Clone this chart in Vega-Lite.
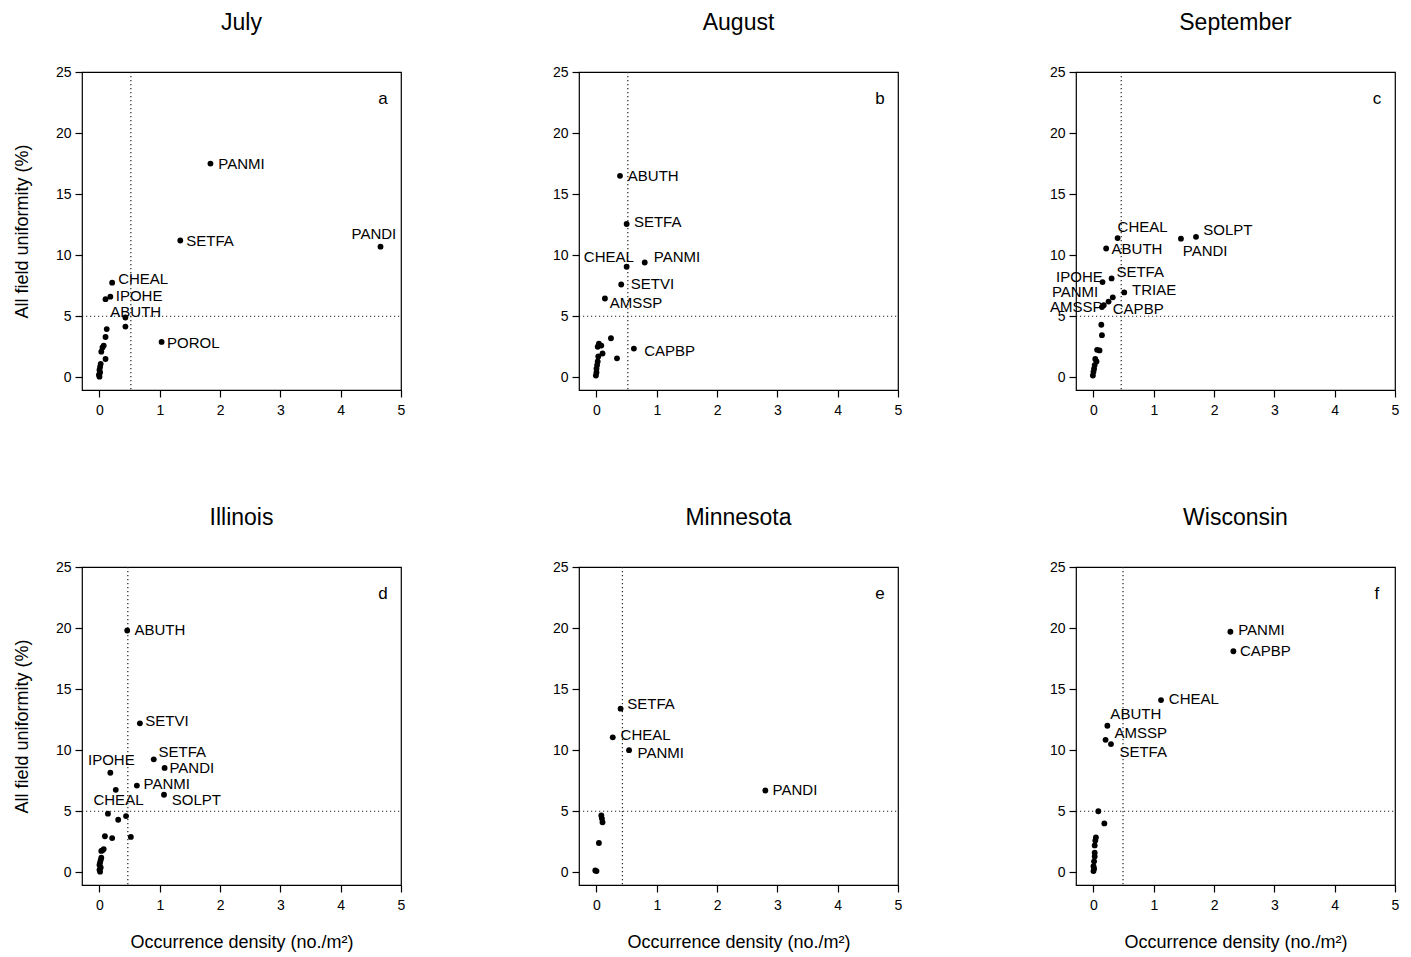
{
"$schema": "https://vega.github.io/schema/vega-lite/v6.json",
"background": "white",
"padding": {"left": 12, "top": 11, "right": 5, "bottom": 5},
"bounds": "flush",
"columns": 3,
"spacing": {"row": 177, "column": 178},
"datasets": {
"d": [
{"p":"a","k":"ref","x":0.52,"y":5},
{"p":"b","k":"ref","x":0.52,"y":5},
{"p":"c","k":"ref","x":0.46,"y":5},
{"p":"d","k":"ref","x":0.47,"y":5},
{"p":"e","k":"ref","x":0.43,"y":5},
{"p":"f","k":"ref","x":0.49,"y":5},
{"p":"a","k":"tag","s":"a","x":4.7,"y":22.4},
{"p":"b","k":"tag","s":"b","x":4.7,"y":22.4},
{"p":"c","k":"tag","s":"c","x":4.7,"y":22.4},
{"p":"d","k":"tag","s":"d","x":4.7,"y":22.4},
{"p":"e","k":"tag","s":"e","x":4.7,"y":22.4},
{"p":"f","k":"tag","s":"f","x":4.7,"y":22.4},

{"p":"a","k":"pt","x":1.84,"y":17.5},
{"p":"a","k":"pt","x":1.34,"y":11.2},
{"p":"a","k":"pt","x":4.66,"y":10.7},
{"p":"a","k":"pt","x":0.21,"y":7.75},
{"p":"a","k":"pt","x":0.10,"y":6.4},
{"p":"a","k":"pt","x":0.18,"y":6.6},
{"p":"a","k":"pt","x":0.43,"y":4.9},
{"p":"a","k":"pt","x":0.43,"y":4.15},
{"p":"a","k":"pt","x":1.03,"y":2.9},
{"p":"a","k":"pt","x":0.12,"y":3.95},
{"p":"a","k":"pt","x":0.10,"y":3.3},
{"p":"a","k":"pt","x":0.07,"y":2.6},
{"p":"a","k":"pt","x":0.05,"y":2.45},
{"p":"a","k":"pt","x":0.03,"y":2.1},
{"p":"a","k":"pt","x":0.10,"y":1.5},
{"p":"a","k":"pt","x":0.02,"y":1.1},
{"p":"a","k":"pt","x":0.01,"y":0.85},
{"p":"a","k":"pt","x":0.0,"y":0.6},
{"p":"a","k":"pt","x":0.01,"y":0.4},
{"p":"a","k":"pt","x":-0.01,"y":0.2},
{"p":"a","k":"pt","x":0.0,"y":0.05},
{"p":"a","k":"lab","s":"PANMI","x":1.97,"y":17.5},
{"p":"a","k":"lab","s":"SETFA","x":1.44,"y":11.2},
{"p":"a","k":"lab","s":"PANDI","x":4.18,"y":11.7},
{"p":"a","k":"lab","s":"CHEAL","x":0.31,"y":8.05},
{"p":"a","k":"lab","s":"IPOHE","x":0.27,"y":6.65},
{"p":"a","k":"lab","s":"ABUTH","x":0.18,"y":5.37},
{"p":"a","k":"lab","s":"POROL","x":1.12,"y":2.83},

{"p":"b","k":"pt","x":0.39,"y":16.5},
{"p":"b","k":"pt","x":0.5,"y":12.55},
{"p":"b","k":"pt","x":0.5,"y":9.05},
{"p":"b","k":"pt","x":0.8,"y":9.4},
{"p":"b","k":"pt","x":0.41,"y":7.6},
{"p":"b","k":"pt","x":0.14,"y":6.45},
{"p":"b","k":"pt","x":0.62,"y":2.35},
{"p":"b","k":"pt","x":0.24,"y":3.2},
{"p":"b","k":"pt","x":0.34,"y":1.55},
{"p":"b","k":"pt","x":0.04,"y":2.75},
{"p":"b","k":"pt","x":0.08,"y":2.6},
{"p":"b","k":"pt","x":0.02,"y":2.5},
{"p":"b","k":"pt","x":0.1,"y":1.95},
{"p":"b","k":"pt","x":0.03,"y":1.7},
{"p":"b","k":"pt","x":0.02,"y":1.3},
{"p":"b","k":"pt","x":0.01,"y":1.0},
{"p":"b","k":"pt","x":0.0,"y":0.7},
{"p":"b","k":"pt","x":0.0,"y":0.4},
{"p":"b","k":"pt","x":-0.01,"y":0.15},
{"p":"b","k":"lab","s":"ABUTH","x":0.52,"y":16.48},
{"p":"b","k":"lab","s":"SETFA","x":0.62,"y":12.68},
{"p":"b","k":"lab","s":"CHEAL","x":-0.21,"y":9.89},
{"p":"b","k":"lab","s":"PANMI","x":0.95,"y":9.89},
{"p":"b","k":"lab","s":"SETVI","x":0.57,"y":7.6},
{"p":"b","k":"lab","s":"AMSSP","x":0.22,"y":6.07},
{"p":"b","k":"lab","s":"CAPBP","x":0.79,"y":2.19},

{"p":"c","k":"pt","x":0.4,"y":11.4},
{"p":"c","k":"pt","x":0.21,"y":10.55},
{"p":"c","k":"pt","x":1.7,"y":11.5},
{"p":"c","k":"pt","x":1.45,"y":11.35},
{"p":"c","k":"pt","x":0.3,"y":8.1},
{"p":"c","k":"pt","x":0.15,"y":7.8},
{"p":"c","k":"pt","x":0.51,"y":6.95},
{"p":"c","k":"pt","x":0.32,"y":6.55},
{"p":"c","k":"pt","x":0.25,"y":6.2},
{"p":"c","k":"pt","x":0.14,"y":5.75},
{"p":"c","k":"pt","x":0.17,"y":5.9},
{"p":"c","k":"pt","x":0.13,"y":4.3},
{"p":"c","k":"pt","x":0.14,"y":3.45},
{"p":"c","k":"pt","x":0.06,"y":2.25},
{"p":"c","k":"pt","x":0.1,"y":2.2},
{"p":"c","k":"pt","x":0.03,"y":1.5},
{"p":"c","k":"pt","x":0.05,"y":1.3},
{"p":"c","k":"pt","x":0.02,"y":1.0},
{"p":"c","k":"pt","x":0.01,"y":0.7},
{"p":"c","k":"pt","x":0.0,"y":0.45},
{"p":"c","k":"pt","x":-0.01,"y":0.15},
{"p":"c","k":"lab","s":"CHEAL","x":0.40,"y":12.31},
{"p":"c","k":"lab","s":"ABUTH","x":0.30,"y":10.51},
{"p":"c","k":"lab","s":"SOLPT","x":1.82,"y":12.07},
{"p":"c","k":"lab","s":"PANDI","x":1.48,"y":10.35},
{"p":"c","k":"lab","s":"SETFA","x":0.38,"y":8.66},
{"p":"c","k":"lab","s":"IPOHE","x":-0.62,"y":8.25},
{"p":"c","k":"lab","s":"TRIAE","x":0.64,"y":7.14},
{"p":"c","k":"lab","s":"PANMI","x":-0.69,"y":7.0},
{"p":"c","k":"lab","s":"AMSSP","x":-0.72,"y":5.72},
{"p":"c","k":"lab","s":"CAPBP","x":0.32,"y":5.59},

{"p":"d","k":"pt","x":0.46,"y":19.8},
{"p":"d","k":"pt","x":0.67,"y":12.2},
{"p":"d","k":"pt","x":0.9,"y":9.25},
{"p":"d","k":"pt","x":1.08,"y":8.55},
{"p":"d","k":"pt","x":0.18,"y":8.15},
{"p":"d","k":"pt","x":0.62,"y":7.1},
{"p":"d","k":"pt","x":0.27,"y":6.75},
{"p":"d","k":"pt","x":1.07,"y":6.35},
{"p":"d","k":"pt","x":0.14,"y":4.8},
{"p":"d","k":"pt","x":0.31,"y":4.3},
{"p":"d","k":"pt","x":0.44,"y":4.6},
{"p":"d","k":"pt","x":0.09,"y":2.95},
{"p":"d","k":"pt","x":0.21,"y":2.8},
{"p":"d","k":"pt","x":0.52,"y":2.9},
{"p":"d","k":"pt","x":0.07,"y":1.9},
{"p":"d","k":"pt","x":0.05,"y":1.8},
{"p":"d","k":"pt","x":0.03,"y":1.75},
{"p":"d","k":"pt","x":0.03,"y":1.2},
{"p":"d","k":"pt","x":0.02,"y":1.0},
{"p":"d","k":"pt","x":0.01,"y":0.8},
{"p":"d","k":"pt","x":0.0,"y":0.6},
{"p":"d","k":"pt","x":0.02,"y":0.4},
{"p":"d","k":"pt","x":0.0,"y":0.2},
{"p":"d","k":"pt","x":0.01,"y":0.05},
{"p":"d","k":"lab","s":"ABUTH","x":0.58,"y":19.81},
{"p":"d","k":"lab","s":"SETVI","x":0.76,"y":12.35},
{"p":"d","k":"lab","s":"SETFA","x":0.98,"y":9.89},
{"p":"d","k":"lab","s":"PANDI","x":1.16,"y":8.5},
{"p":"d","k":"lab","s":"IPOHE","x":-0.19,"y":9.16},
{"p":"d","k":"lab","s":"PANMI","x":0.73,"y":7.27},
{"p":"d","k":"lab","s":"SOLPT","x":1.2,"y":5.93},
{"p":"d","k":"lab","s":"CHEAL","x":-0.1,"y":5.93},

{"p":"e","k":"pt","x":0.4,"y":13.4},
{"p":"e","k":"pt","x":0.27,"y":11.05},
{"p":"e","k":"pt","x":0.54,"y":10.0},
{"p":"e","k":"pt","x":2.8,"y":6.7},
{"p":"e","k":"pt","x":0.08,"y":4.65},
{"p":"e","k":"pt","x":0.09,"y":4.4},
{"p":"e","k":"pt","x":0.1,"y":4.1},
{"p":"e","k":"pt","x":0.04,"y":2.4},
{"p":"e","k":"pt","x":0.0,"y":0.1},
{"p":"e","k":"pt","x":-0.02,"y":0.15},
{"p":"e","k":"lab","s":"SETFA","x":0.51,"y":13.75},
{"p":"e","k":"lab","s":"CHEAL","x":0.4,"y":11.26},
{"p":"e","k":"lab","s":"PANMI","x":0.68,"y":9.75},
{"p":"e","k":"lab","s":"PANDI","x":2.92,"y":6.7},

{"p":"f","k":"pt","x":2.27,"y":19.7},
{"p":"f","k":"pt","x":2.32,"y":18.1},
{"p":"f","k":"pt","x":1.12,"y":14.1},
{"p":"f","k":"pt","x":0.23,"y":12.0},
{"p":"f","k":"pt","x":0.2,"y":10.85},
{"p":"f","k":"pt","x":0.29,"y":10.5},
{"p":"f","k":"pt","x":0.08,"y":5.0},
{"p":"f","k":"pt","x":0.18,"y":4.0},
{"p":"f","k":"pt","x":0.04,"y":2.85},
{"p":"f","k":"pt","x":0.03,"y":2.6},
{"p":"f","k":"pt","x":0.02,"y":2.2},
{"p":"f","k":"pt","x":0.02,"y":1.6},
{"p":"f","k":"pt","x":0.02,"y":1.3},
{"p":"f","k":"pt","x":0.01,"y":0.9},
{"p":"f","k":"pt","x":0.0,"y":0.5},
{"p":"f","k":"pt","x":0.01,"y":0.3},
{"p":"f","k":"pt","x":0.0,"y":0.1},
{"p":"f","k":"lab","s":"PANMI","x":2.4,"y":19.81},
{"p":"f","k":"lab","s":"CAPBP","x":2.43,"y":18.09},
{"p":"f","k":"lab","s":"CHEAL","x":1.25,"y":14.18},
{"p":"f","k":"lab","s":"ABUTH","x":0.28,"y":12.93},
{"p":"f","k":"lab","s":"AMSSP","x":0.35,"y":11.39},
{"p":"f","k":"lab","s":"SETFA","x":0.43,"y":9.89}
]
},
"data": {"name": "d"},
"concat": [
{"title":"July","width":319,"height":318,"transform":[{"filter":"datum.p === 'a'"}],
 "encoding":{"x":{"field":"x","type":"quantitative","scale":{"domain":[-0.29,5],"nice":false,"zero":false},"axis":{"values":[0,1,2,3,4,5],"title":null}},"y":{"field":"y","type":"quantitative","scale":{"domain":[-1.04,25],"nice":false,"zero":false},"axis":{"values":[0,5,10,15,20,25],"title":"All field uniformity (%)"}}},
 "layer":[
  {"transform":[{"filter":"datum.k === 'ref'"}],"mark":{"type":"rule","color":"#222","strokeDash":[1.2,2.8],"strokeWidth":1.2},"encoding":{"y":{"value":0},"y2":{"value":318}}},
  {"transform":[{"filter":"datum.k === 'ref'"}],"mark":{"type":"rule","color":"#222","strokeDash":[1.2,2.8],"strokeWidth":1.2},"encoding":{"x":{"value":0},"x2":{"value":319}}},
  {"transform":[{"filter":"datum.k === 'pt'"}],"mark":{"type":"circle","size":34,"color":"black","opacity":1}},
  {"transform":[{"filter":"datum.k === 'lab'"}],"mark":{"type":"text","align":"left","baseline":"middle","fontSize":15,"color":"black"},"encoding":{"text":{"field":"s"}}},
  {"transform":[{"filter":"datum.k === 'tag'"}],"mark":{"type":"text","align":"center","baseline":"alphabetic","fontSize":17,"color":"black"},"encoding":{"text":{"field":"s"}}}
 ]},
{"title":"August","width":319,"height":318,"transform":[{"filter":"datum.p === 'b'"}],
 "encoding":{"x":{"field":"x","type":"quantitative","scale":{"domain":[-0.29,5],"nice":false,"zero":false},"axis":{"values":[0,1,2,3,4,5],"title":null}},"y":{"field":"y","type":"quantitative","scale":{"domain":[-1.04,25],"nice":false,"zero":false},"axis":{"values":[0,5,10,15,20,25],"title":null}}},
 "layer":[
  {"transform":[{"filter":"datum.k === 'ref'"}],"mark":{"type":"rule","color":"#222","strokeDash":[1.2,2.8],"strokeWidth":1.2},"encoding":{"y":{"value":0},"y2":{"value":318}}},
  {"transform":[{"filter":"datum.k === 'ref'"}],"mark":{"type":"rule","color":"#222","strokeDash":[1.2,2.8],"strokeWidth":1.2},"encoding":{"x":{"value":0},"x2":{"value":319}}},
  {"transform":[{"filter":"datum.k === 'pt'"}],"mark":{"type":"circle","size":34,"color":"black","opacity":1}},
  {"transform":[{"filter":"datum.k === 'lab'"}],"mark":{"type":"text","align":"left","baseline":"middle","fontSize":15,"color":"black"},"encoding":{"text":{"field":"s"}}},
  {"transform":[{"filter":"datum.k === 'tag'"}],"mark":{"type":"text","align":"center","baseline":"alphabetic","fontSize":17,"color":"black"},"encoding":{"text":{"field":"s"}}}
 ]},
{"title":"September","width":319,"height":318,"transform":[{"filter":"datum.p === 'c'"}],
 "encoding":{"x":{"field":"x","type":"quantitative","scale":{"domain":[-0.29,5],"nice":false,"zero":false},"axis":{"values":[0,1,2,3,4,5],"title":null}},"y":{"field":"y","type":"quantitative","scale":{"domain":[-1.04,25],"nice":false,"zero":false},"axis":{"values":[0,5,10,15,20,25],"title":null}}},
 "layer":[
  {"transform":[{"filter":"datum.k === 'ref'"}],"mark":{"type":"rule","color":"#222","strokeDash":[1.2,2.8],"strokeWidth":1.2},"encoding":{"y":{"value":0},"y2":{"value":318}}},
  {"transform":[{"filter":"datum.k === 'ref'"}],"mark":{"type":"rule","color":"#222","strokeDash":[1.2,2.8],"strokeWidth":1.2},"encoding":{"x":{"value":0},"x2":{"value":319}}},
  {"transform":[{"filter":"datum.k === 'pt'"}],"mark":{"type":"circle","size":34,"color":"black","opacity":1}},
  {"transform":[{"filter":"datum.k === 'lab'"}],"mark":{"type":"text","align":"left","baseline":"middle","fontSize":15,"color":"black"},"encoding":{"text":{"field":"s"}}},
  {"transform":[{"filter":"datum.k === 'tag'"}],"mark":{"type":"text","align":"center","baseline":"alphabetic","fontSize":17,"color":"black"},"encoding":{"text":{"field":"s"}}}
 ]},
{"title":"Illinois","width":319,"height":318,"transform":[{"filter":"datum.p === 'd'"}],
 "encoding":{"x":{"field":"x","type":"quantitative","scale":{"domain":[-0.29,5],"nice":false,"zero":false},"axis":{"values":[0,1,2,3,4,5],"title":"Occurrence density (no./m²)"}},"y":{"field":"y","type":"quantitative","scale":{"domain":[-1.04,25],"nice":false,"zero":false},"axis":{"values":[0,5,10,15,20,25],"title":"All field uniformity (%)"}}},
 "layer":[
  {"transform":[{"filter":"datum.k === 'ref'"}],"mark":{"type":"rule","color":"#222","strokeDash":[1.2,2.8],"strokeWidth":1.2},"encoding":{"y":{"value":0},"y2":{"value":318}}},
  {"transform":[{"filter":"datum.k === 'ref'"}],"mark":{"type":"rule","color":"#222","strokeDash":[1.2,2.8],"strokeWidth":1.2},"encoding":{"x":{"value":0},"x2":{"value":319}}},
  {"transform":[{"filter":"datum.k === 'pt'"}],"mark":{"type":"circle","size":34,"color":"black","opacity":1}},
  {"transform":[{"filter":"datum.k === 'lab'"}],"mark":{"type":"text","align":"left","baseline":"middle","fontSize":15,"color":"black"},"encoding":{"text":{"field":"s"}}},
  {"transform":[{"filter":"datum.k === 'tag'"}],"mark":{"type":"text","align":"center","baseline":"alphabetic","fontSize":17,"color":"black"},"encoding":{"text":{"field":"s"}}}
 ]},
{"title":"Minnesota","width":319,"height":318,"transform":[{"filter":"datum.p === 'e'"}],
 "encoding":{"x":{"field":"x","type":"quantitative","scale":{"domain":[-0.29,5],"nice":false,"zero":false},"axis":{"values":[0,1,2,3,4,5],"title":"Occurrence density (no./m²)"}},"y":{"field":"y","type":"quantitative","scale":{"domain":[-1.04,25],"nice":false,"zero":false},"axis":{"values":[0,5,10,15,20,25],"title":null}}},
 "layer":[
  {"transform":[{"filter":"datum.k === 'ref'"}],"mark":{"type":"rule","color":"#222","strokeDash":[1.2,2.8],"strokeWidth":1.2},"encoding":{"y":{"value":0},"y2":{"value":318}}},
  {"transform":[{"filter":"datum.k === 'ref'"}],"mark":{"type":"rule","color":"#222","strokeDash":[1.2,2.8],"strokeWidth":1.2},"encoding":{"x":{"value":0},"x2":{"value":319}}},
  {"transform":[{"filter":"datum.k === 'pt'"}],"mark":{"type":"circle","size":34,"color":"black","opacity":1}},
  {"transform":[{"filter":"datum.k === 'lab'"}],"mark":{"type":"text","align":"left","baseline":"middle","fontSize":15,"color":"black"},"encoding":{"text":{"field":"s"}}},
  {"transform":[{"filter":"datum.k === 'tag'"}],"mark":{"type":"text","align":"center","baseline":"alphabetic","fontSize":17,"color":"black"},"encoding":{"text":{"field":"s"}}}
 ]},
{"title":"Wisconsin","width":319,"height":318,"transform":[{"filter":"datum.p === 'f'"}],
 "encoding":{"x":{"field":"x","type":"quantitative","scale":{"domain":[-0.29,5],"nice":false,"zero":false},"axis":{"values":[0,1,2,3,4,5],"title":"Occurrence density (no./m²)"}},"y":{"field":"y","type":"quantitative","scale":{"domain":[-1.04,25],"nice":false,"zero":false},"axis":{"values":[0,5,10,15,20,25],"title":null}}},
 "layer":[
  {"transform":[{"filter":"datum.k === 'ref'"}],"mark":{"type":"rule","color":"#222","strokeDash":[1.2,2.8],"strokeWidth":1.2},"encoding":{"y":{"value":0},"y2":{"value":318}}},
  {"transform":[{"filter":"datum.k === 'ref'"}],"mark":{"type":"rule","color":"#222","strokeDash":[1.2,2.8],"strokeWidth":1.2},"encoding":{"x":{"value":0},"x2":{"value":319}}},
  {"transform":[{"filter":"datum.k === 'pt'"}],"mark":{"type":"circle","size":34,"color":"black","opacity":1}},
  {"transform":[{"filter":"datum.k === 'lab'"}],"mark":{"type":"text","align":"left","baseline":"middle","fontSize":15,"color":"black"},"encoding":{"text":{"field":"s"}}},
  {"transform":[{"filter":"datum.k === 'tag'"}],"mark":{"type":"text","align":"center","baseline":"alphabetic","fontSize":17,"color":"black"},"encoding":{"text":{"field":"s"}}}
 ]}
],
"config": {
 "font": "Liberation Sans",
 "view": {"stroke": "black", "strokeWidth": 1.2},
 "axis": {"domain": false, "grid": false, "tickColor": "black", "tickSize": 7, "tickWidth": 1.2, "labelColor": "black", "labelFontSize": 14, "labelPadding": 4, "labelFlush": false, "labelOverlap": false, "titleFontSize": 18, "titleFontWeight": "normal", "titleColor": "black", "titlePadding": 24},
 "axisX": {"labelPadding": 6, "titlePadding": 21},
 "title": {"fontSize": 23, "fontWeight": "normal", "color": "black", "anchor": "middle", "frame": "group", "offset": 30}
}
}
